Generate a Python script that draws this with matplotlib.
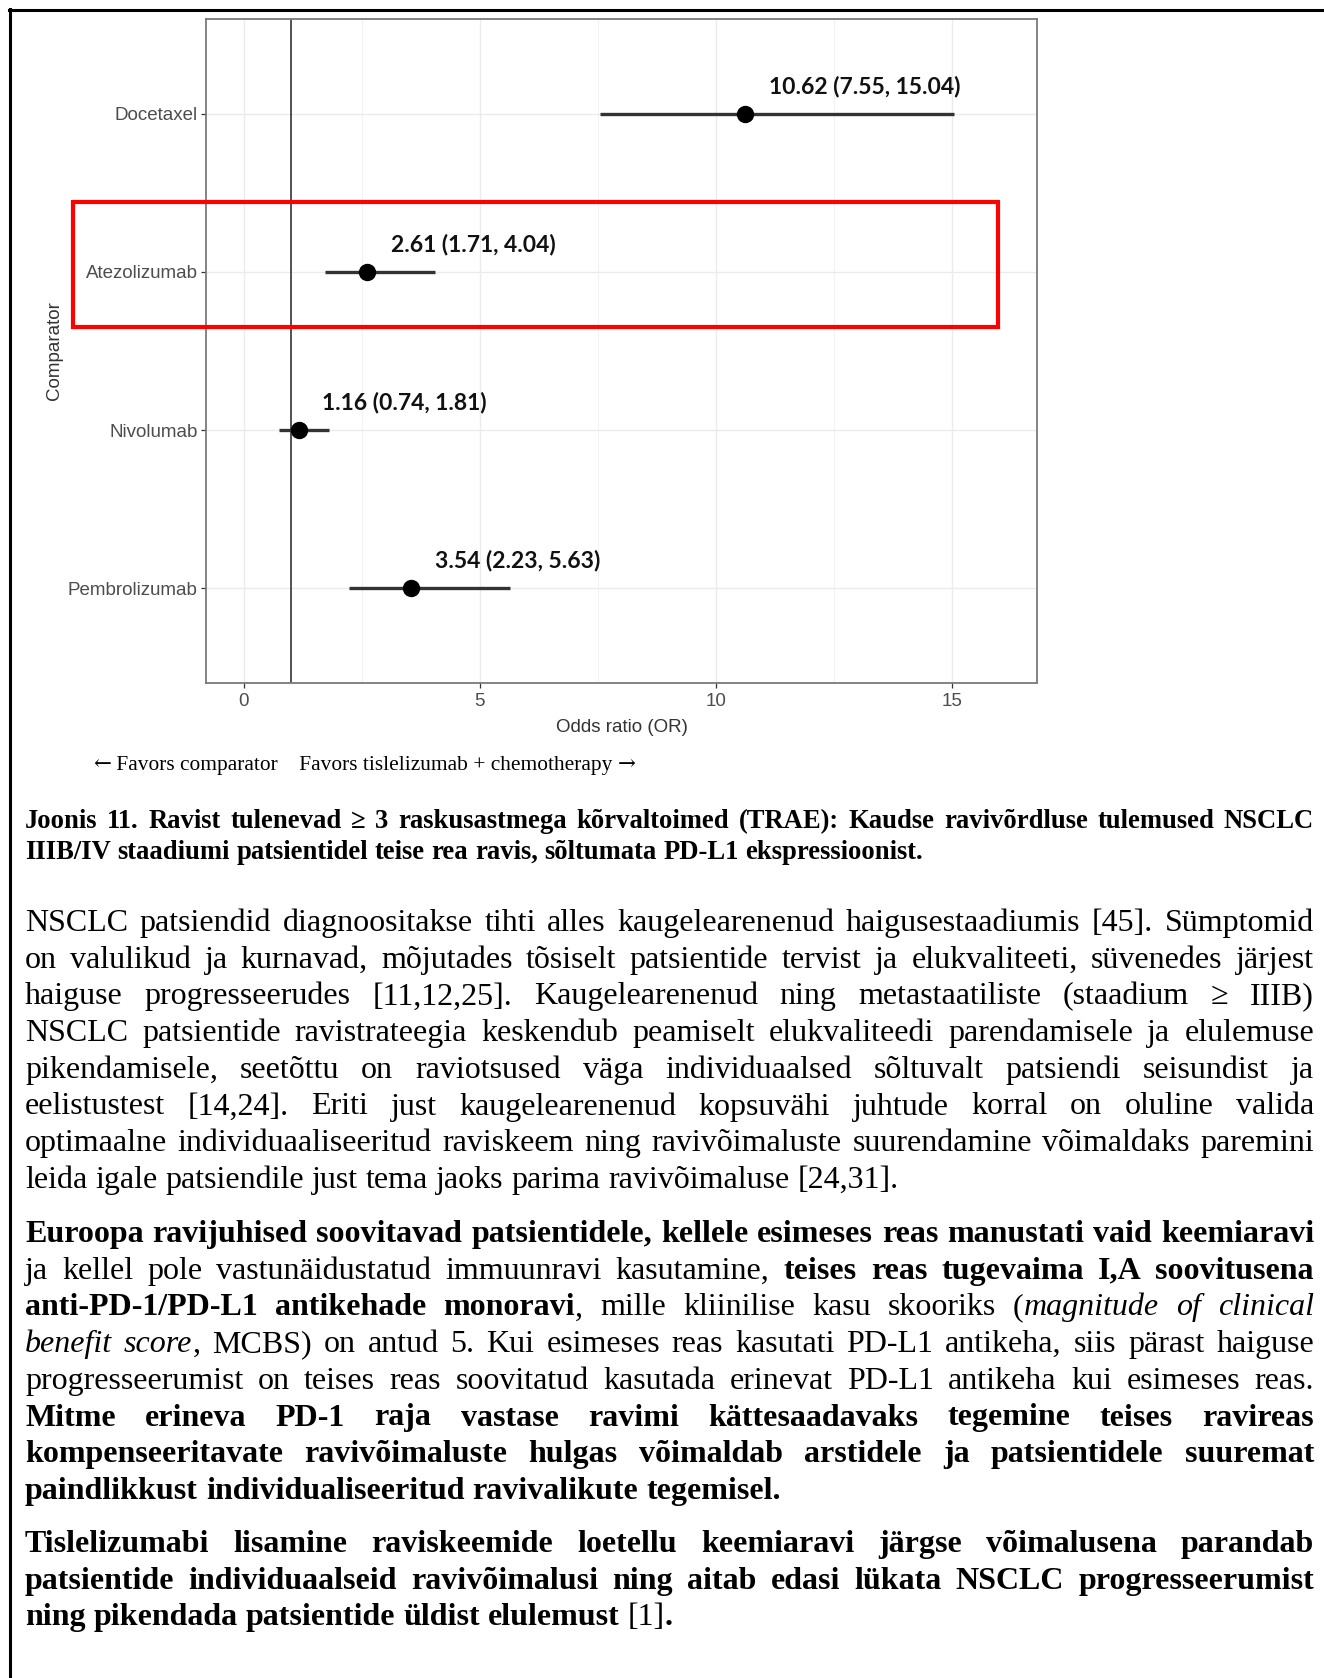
import matplotlib
matplotlib.use('Agg')
import matplotlib.pyplot as plt
from matplotlib.patches import Rectangle
from matplotlib.lines import Line2D

W, H, DPI = 1324, 1678, 100

comparators = ['Pembrolizumab', 'Nivolumab', 'Atezolizumab', 'Docetaxel']
odds_ratio = [3.54, 1.16, 2.61, 10.62]
ci_low = [2.23, 0.74, 1.71, 7.55]
ci_high = [5.63, 1.81, 4.04, 15.04]
x_ticks = [0, 5, 10, 15]
x_minor = [2.5, 7.5, 12.5]

favors_parts = ['\u2190', ' Favors comparator    Favors tislelizumab + chemotherapy ', '\u2192']

caption_lines = [
    'Joonis 11. Ravist tulenevad \u2265 3 raskusastmega kõrvaltoimed (TRAE): Kaudse ravivõrdluse tulemused NSCLC',
    'IIIB/IV staadiumi patsientidel teise rea ravis, sõltumata PD-L1 ekspressioonist.',
]

para1 = [
    'NSCLC patsiendid diagnoositakse tihti alles kaugelearenenud haigusestaadiumis [45]. Sümptomid',
    'on valulikud ja kurnavad, mõjutades tõsiselt patsientide tervist ja elukvaliteeti, süvenedes järjest',
    'haiguse progresseerudes [11,12,25]. Kaugelearenenud ning metastaatiliste (staadium \u2265 IIIB)',
    'NSCLC patsientide ravistrateegia keskendub peamiselt elukvaliteedi parendamisele ja elulemuse',
    'pikendamisele, seetõttu on raviotsused väga individuaalsed sõltuvalt patsiendi seisundist ja',
    'eelistustest [14,24]. Eriti just kaugelearenenud kopsuvähi juhtude korral on oluline valida',
    'optimaalne individuaaliseeritud raviskeem ning ravivõimaluste suurendamine võimaldaks paremini',
    'leida igale patsiendile just tema jaoks parima ravivõimaluse [24,31].',
]
para2 = [
    '**Euroopa ravijuhised soovitavad patsientidele, kellele esimeses reas manustati vaid keemiaravi**',
    'ja kellel pole vastunäidustatud immuunravi kasutamine, **teises reas tugevaima I,A soovitusena**',
    '**anti-PD-1/PD-L1 antikehade monoravi**, mille kliinilise kasu skooriks (*magnitude of clinical*',
    '*benefit score*, MCBS) on antud 5. Kui esimeses reas kasutati PD-L1 antikeha, siis pärast haiguse',
    'progresseerumist on teises reas soovitatud kasutada erinevat PD-L1 antikeha kui esimeses reas.',
    '**Mitme erineva PD-1 raja vastase ravimi kättesaadavaks tegemine teises ravireas**',
    '**kompenseeritavate ravivõimaluste hulgas võimaldab arstidele ja patsientidele suuremat**',
    '**paindlikkust individualiseeritud ravivalikute tegemisel.**',
]
para3 = [
    '**Tislelizumabi lisamine raviskeemide loetellu keemiaravi järgse võimalusena parandab**',
    '**patsientide individuaalseid ravivõimalusi ning aitab edasi lükata NSCLC progresseerumist**',
    '**ning pikendada patsientide üldist elulemust** [1]**.**',
]


def fx(px):
    return px / W


def fy(py):
    return 1 - py / H


def parse_line(line, bold=False):
    # split a line with **bold** / *italic* markup into words of styled pieces
    words = [[]]
    ital = False
    buf = ''
    i = 0
    while i < len(line):
        if line.startswith('**', i):
            if buf:
                words[-1].append((buf, bold, ital))
                buf = ''
            bold = not bold
            i += 2
            continue
        ch = line[i]
        if ch == '*':
            if buf:
                words[-1].append((buf, bold, ital))
                buf = ''
            ital = not ital
        elif ch == ' ':
            if buf:
                words[-1].append((buf, bold, ital))
                buf = ''
            if words[-1]:
                words.append([])
        else:
            buf += ch
        i += 1
    if buf:
        words[-1].append((buf, bold, ital))
    if not words[-1]:
        words.pop()
    return words


def draw_line(fig, renderer, line, y_px, size, justify, bold=False, x0=25, x1=1314):
    words = parse_line(line, bold)
    placed, widths = [], []
    for w in words:
        segs, total = [], 0
        for txt, b, it in w:
            t = fig.text(0, fy(y_px), txt, fontsize=size, family='Liberation Serif',
                         weight='bold' if b else 'normal',
                         style='italic' if it else 'normal',
                         ha='left', va='baseline', color='black')
            wd = t.get_window_extent(renderer).width
            segs.append((t, wd))
            total += wd
        placed.append(segs)
        widths.append(total)
    gap = size * DPI / 72 * 0.25
    if justify and len(words) > 1:
        gap = (x1 - x0 - sum(widths)) / (len(words) - 1)
    x = x0
    for segs, total in zip(placed, widths):
        xx = x
        for t, wd in segs:
            t.set_x(fx(xx))
            xx += wd
        x += total + gap


def draw_paragraph(fig, renderer, lines, y0, size, step=36.7):
    for k, line in enumerate(lines):
        draw_line(fig, renderer, line, y0 + k * step, size, justify=k < len(lines) - 1)


fig = plt.figure(figsize=(W / DPI, H / DPI), dpi=DPI)
renderer = fig.canvas.get_renderer()

# forest plot panel
ax = fig.add_axes([fx(206), fy(683), (1037 - 206) / W, (683 - 19) / H])
ypos = list(range(1, len(comparators) + 1))

ax.set_xlim(-0.8, 16.8)
ax.set_ylim(0.4, len(comparators) + 0.6)
ax.set_xticks(x_ticks)
ax.set_xticks(x_minor, minor=True)
ax.set_yticks(ypos)
ax.set_yticklabels(comparators)
ax.grid(True, which='major', color='#EBEBEB', lw=1.0)
ax.grid(True, which='minor', axis='x', color='#F2F2F2', lw=0.8)
ax.set_axisbelow(True)
for s in ax.spines.values():
    s.set_color('#7A7A7A')
    s.set_linewidth(1.3)
ax.tick_params(which='major', length=3.5, width=0.9, color='#333333',
               labelcolor='#4D4D4D', labelsize=13.5, pad=2.5)
ax.tick_params(axis='x', which='major', pad=4)
ax.tick_params(which='minor', length=0)
for lab in ax.get_xticklabels() + ax.get_yticklabels():
    lab.set_family('Liberation Sans')

ax.axvline(1, color='#222222', lw=1.1, zorder=2)
ax.hlines(ypos, ci_low, ci_high, color='#333333', lw=2.4, zorder=3)
ax.plot(odds_ratio, ypos, 'o', ms=11.5, color='black', zorder=4)

for o, lo, hi, y in zip(odds_ratio, ci_low, ci_high, ypos):
    ax.annotate(f'{o:.2f} ({lo:.2f}, {hi:.2f})', (o, y), xytext=(17, 20),
                textcoords='offset points', ha='left', va='center',
                fontsize=16.5, fontweight='bold', family='Lato', color='#111111')

ax.set_xlabel('Odds ratio (OR)', fontsize=13.5, family='Liberation Sans',
              color='#333333', labelpad=6.5)
ax.set_ylabel('Comparator', fontsize=13.5, family='Liberation Sans',
              color='#333333', labelpad=3.5)

# highlight around the Atezolizumab row
fig.add_artist(Rectangle((fx(73), fy(327)), fx(998) - fx(73), (327 - 202) / H,
                         fill=False, ec='#FF0000', lw=3.0, transform=fig.transFigure))

# direction note under the plot, arrows from a font with longer arrow glyphs
xx = 93
for part, fam in zip(favors_parts, ['DejaVu Serif', 'Liberation Serif', 'DejaVu Serif']):
    t = fig.text(fx(xx), fy(770), part, fontsize=15.4, va='baseline', ha='left',
                 family=fam)
    xx += t.get_window_extent(renderer).width

# page frame
fig.add_artist(Line2D([fx(9), 1], [fy(10), fy(10)], lw=2.2, color='black',
                      transform=fig.transFigure))
fig.add_artist(Line2D([fx(10), fx(10)], [fy(9), 0], lw=2.2, color='black',
                      transform=fig.transFigure))

# caption and body text
draw_line(fig, renderer, caption_lines[0], 828, 19.2, justify=True, bold=True)
draw_line(fig, renderer, caption_lines[1], 859, 19.2, justify=False, bold=True)

draw_paragraph(fig, renderer, para1, 931, 23.0)
draw_paragraph(fig, renderer, para2, 1242, 23.0)
draw_paragraph(fig, renderer, para3, 1552, 23.0)

fig.savefig('out.png', dpi=DPI)
